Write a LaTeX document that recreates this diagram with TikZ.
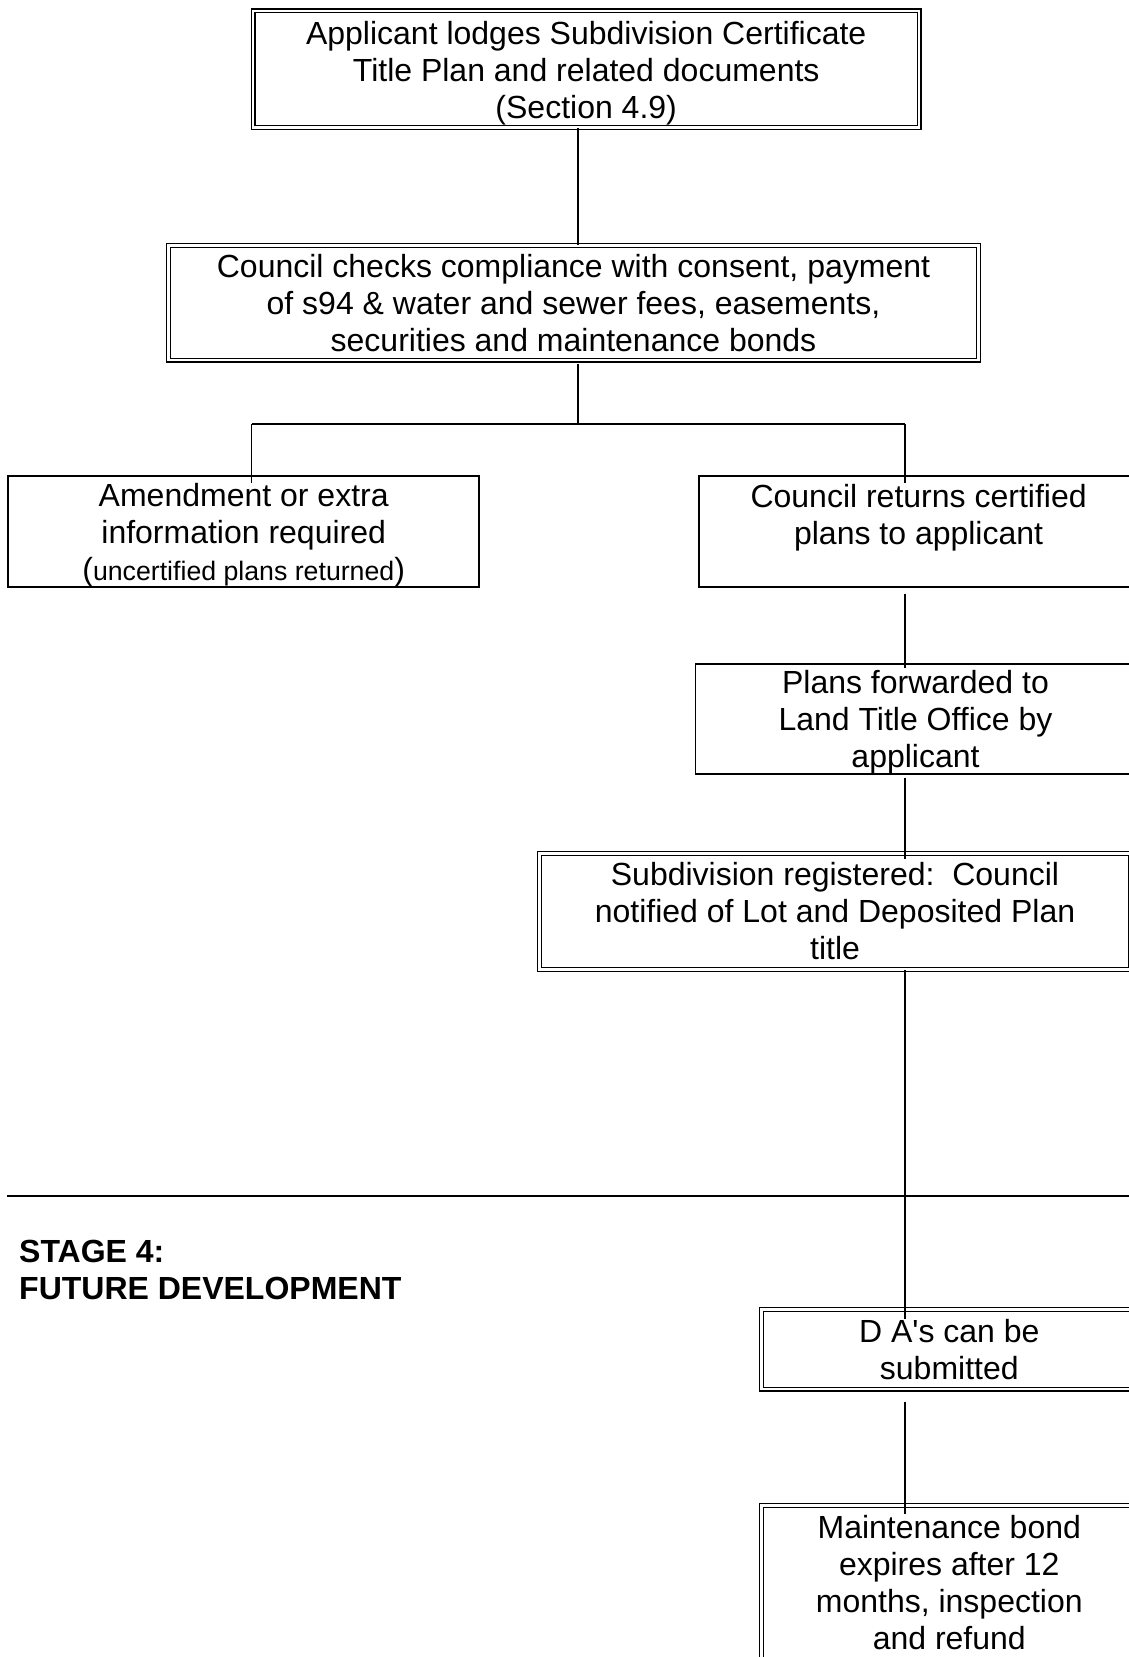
\documentclass[tikz,border=0pt]{standalone}
\usepackage{fontspec}
\setmainfont{Liberation Sans}[Ligatures=TeXOff]
\begin{document}
\begin{tikzpicture}[x=1pt,y=-1pt,
  txt/.style={font=\fontsize{32}{37}\selectfont, align=center, inner sep=0pt},
  sbox/.style={txt, draw, line width=1.8pt},
  dbox/.style={txt, draw, line width=1.3pt, double, double distance=2.4pt},
  conn/.style={line width=1.5pt}
]
\useasboundingbox (0,0) rectangle (1129,1657);
\clip (0,0) rectangle (1129,1657);

% boxes
\node[dbox, minimum width=666pt, minimum height=116.5pt, text height=105pt] (top) at (586.2,69.2)
  {Applicant lodges Subdivision Certificate\\Title Plan and related documents\\(Section 4.9)};
\node[dbox, minimum width=810pt, minimum height=114.5pt] (check) at (573.5,302.9)
  {Council checks compliance with consent, payment\\of s94 \& water and sewer fees, easements,\\securities and maintenance bonds};
\node[sbox, minimum width=470.8pt, minimum height=111.2pt, text height=104.5pt] (amend) at (243.7,531.2)
  {Amendment or extra\\information required\\({\fontsize{26.7}{37}\selectfont uncertified plans returned})};
\node[sbox, minimum width=440pt, minimum height=111.2pt, text height=100.5pt] (ret) at (918.6,531.2)
  {Council returns certified\\plans to applicant\\\mbox{}};
\node[sbox, minimum width=440pt, minimum height=110pt, text height=103.7pt] (fwd) at (915.5,719)
  {Plans forwarded to\\Land Title Office by\\applicant};
\node[dbox, minimum width=591pt, minimum height=116pt] (reg) at (835,911.5)
  {Subdivision registered:\ \ Council\\notified of Lot and Deposited Plan\\title};
\node[dbox, minimum width=375.6pt, minimum height=79.7pt] (das) at (949.3,1349.3)
  {D A's can be\\submitted};
\node[dbox, minimum width=375.6pt, minimum height=155pt] (maint) at (949.3,1583)
  {Maintenance bond\\expires after 12\\months, inspection\\and refund};

% stage label and separator
\node[font=\bfseries\fontsize{32}{37}\selectfont, align=left, anchor=base west, inner sep=0pt] (stage) at (19,1299)
  {STAGE 4:\\FUTURE DEVELOPMENT};
\coordinate (sepL) at (7.4,1195.6);
\coordinate (sepR) at (1129,1195.6);
\draw[line width=2pt] (sepL) -- (sepR);

% trunk coordinates
\coordinate (cx) at (578,0);
\coordinate (lx) at (251.6,0);
\coordinate (tx) at (905,0);
\coordinate (jc) at (578,424);
\coordinate (jl) at (251.6,424);
\coordinate (jr) at (905,424);

% connectors
\draw[conn] (top.south -| cx) -- (check.north -| cx);
\draw[conn] ([yshift=-3pt]check.south -| cx) -- (jc);
\draw[conn] (jl) -- (jr);
\draw[conn] (jl) -- ([yshift=-8pt]amend.north -| jl);
\draw[conn] (jr) -- ([yshift=-8pt]ret.north -| jr);
\draw[conn] ([yshift=-6pt]ret.south -| tx) -- ([yshift=-5pt]fwd.north -| tx);
\draw[conn] ([yshift=-3pt]fwd.south -| tx) -- ([yshift=-6pt]reg.north -| tx);
\draw[conn] (reg.south -| tx) -- ([yshift=-10pt]das.north -| tx);
\draw[conn] ([yshift=-12pt]das.south -| tx) -- ([yshift=-9pt]maint.north -| tx);
\end{tikzpicture}
\end{document}
